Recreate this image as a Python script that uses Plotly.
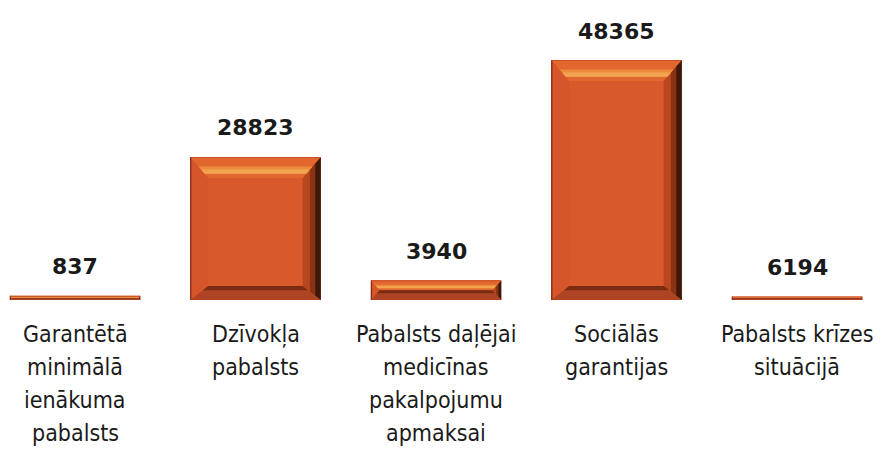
import plotly.graph_objects as go

# ---- data ----
categories = [
    "Garantētā\nminimālā\nienākuma\npabalsts",
    "Dzīvokļa\npabalsts",
    "Pabalsts daļējai\nmedicīnas\npakalpojumu\napmaksai",
    "Sociālās\ngarantijas",
    "Pabalsts krīzes\nsituācijā",
]
value_labels = [837, 28823, 3940, 48365, 6194]
# bar heights as drawn in the reference (last bar is drawn as a thin line)
drawn_heights = [837, 28823, 3940, 48365, 700]

# ---- layout geometry (page body has an 8px margin) ----
W, H = 873, 444
plot_h = 292
M_T, M_B = 0, H - plot_h
y_max = 58844
x_lo, x_hi = -0.3712, 4.4654
bar_w = 0.722
ky = y_max / plot_h          # data units per px (y)
kx = (x_hi - x_lo) / W       # data units per px (x)

base = "#DA592C"
fig = go.Figure()
xs = list(range(len(categories)))
fig.add_trace(go.Bar(
    x=xs, y=drawn_heights, width=bar_w,
    marker=dict(color=base, line=dict(width=0)),
    hoverinfo="skip", showlegend=False,
))

shapes = []
def poly(pts, color, opacity=1.0):
    path = "M " + " L ".join(f"{px},{py}" for px, py in pts) + " Z"
    shapes.append(dict(type="path", path=path, xref="x", yref="y",
                       fillcolor=color, line=dict(width=0), opacity=opacity, layer="above"))

for i, h in zip(xs, drawn_heights):
    hp = h / ky
    s = min(1.0, hp / 40.0)
    bt, bb, bs = 21 * s, 14 * s, 18 * s      # top, bottom, side bevel (px)
    if hp < 40:
        bt = bb = hp / 2
    tx, ty = bs * kx, bt * ky
    by = bb * ky
    L, R = i - bar_w / 2, i + bar_w / 2
    # left bevel
    poly([(L, 0), (L, h), (L + tx, h - ty), (L + tx, by)], "#D6552A")
    # right bevel (dark gradient)
    poly([(R, 0), (R, h), (R - tx, h - ty), (R - tx, by)], "#B8461F")
    poly([(R, 0), (R, h), (R - tx * 0.6, h - ty * 0.6), (R - tx * 0.6, by * 0.6)], "#8A3214")
    poly([(R, 0), (R, h), (R - tx * 0.3, h - ty * 0.3), (R - tx * 0.3, by * 0.3)], "#3C190B")
    # top bevel (light)
    poly([(L, h), (R, h), (R - tx, h - ty), (L + tx, h - ty)], "#E2672F")
    poly([(L + tx * 0.45, h - ty * 0.45), (R - tx * 0.45, h - ty * 0.45),
          (R - tx * 0.8, h - ty * 0.8), (L + tx * 0.8, h - ty * 0.8)], "#EC8A3E")
    poly([(L + tx * 0.6, h - ty * 0.6), (R - tx * 0.6, h - ty * 0.6),
          (R - tx * 0.8, h - ty * 0.8), (L + tx * 0.8, h - ty * 0.8)], "#F2A54E")
    # bottom bevel (dark)
    poly([(L, 0), (R, 0), (R - tx, by), (L + tx, by)], "#AE4424")
    poly([(L + tx * 0.7, by * 0.7), (R - tx * 0.7, by * 0.7), (R - tx, by), (L + tx, by)], "#7A2C12")
    # left dark edge line
    poly([(L, 0), (L, h), (L + 1.0 * kx, h), (L + 1.0 * kx, 0)], "#6E2810")
    # top thin edge
    poly([(L, h), (R, h), (R, h - 1.0 * ky), (L, h - 1.0 * ky)], "#C9502A")

annotations = []
for i, h, v in zip(xs, drawn_heights, value_labels):
    annotations.append(dict(
        x=i, y=h, xref="x", yref="y", text=f"<b>{v}</b>", showarrow=False,
        yshift=29, yanchor="middle",
        font=dict(family="DejaVu Sans", size=22, color="#1a1a1a"),
    ))
for i, cat in zip(xs, categories):
    for j, line in enumerate(cat.split("\n")):
        annotations.append(dict(
            x=i, y=0, xref="x", yref="paper", text=line, showarrow=False,
            yshift=-(34 + 33 * j), yanchor="middle",
            font=dict(family="DejaVu Sans Condensed", size=23, color="#1a1a1a"),
        ))

fig.update_layout(
    width=W, height=H,
    margin=dict(l=0, r=0, t=M_T, b=M_B, pad=0),
    paper_bgcolor="white", plot_bgcolor="white",
    xaxis=dict(range=[x_lo, x_hi], visible=False, fixedrange=True),
    yaxis=dict(range=[0, y_max], visible=False, fixedrange=True),
    shapes=shapes, annotations=annotations, bargap=0,
)
fig.write_html("out.html", config={"displayModeBar": False})
